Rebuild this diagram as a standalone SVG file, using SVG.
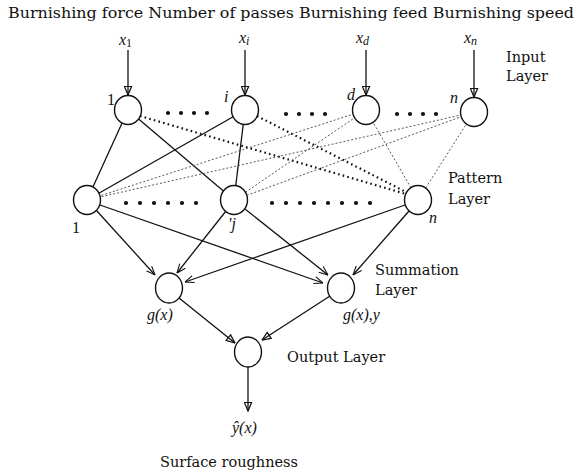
<svg xmlns="http://www.w3.org/2000/svg" width="577" height="475" viewBox="0 0 577 475">
<style>
.t{font-family:"DejaVu Serif","Liberation Serif",serif;font-size:14.5px;fill:#111}
.it{font-family:"Liberation Serif",serif;font-style:italic;font-size:16px;fill:#111}
.up{font-family:"Liberation Serif",serif;font-size:16px;fill:#111}
.node{fill:#fff;stroke:#111;stroke-width:1.4}
.solid{stroke:#111;stroke-width:1.3;fill:none}
.thick{stroke:#111;stroke-width:2.2;stroke-dasharray:1.6 3.2;fill:none}
.thin{stroke:#444;stroke-width:0.9;stroke-dasharray:2 2;fill:none}
.dot{fill:#111}
</style>
<defs>
<marker id="tri" viewBox="0 0 10 10" refX="10" refY="5" markerWidth="10" markerHeight="9" markerUnits="userSpaceOnUse" orient="auto">
<path d="M0.5,1 L10,5 L0.5,9 z" fill="none" stroke="#111" stroke-width="1.4"/>
</marker>
<marker id="open" viewBox="0 0 10 10" refX="10" refY="5" markerWidth="9" markerHeight="9" markerUnits="userSpaceOnUse" orient="auto">
<path d="M0,1 L10,5 L0,9" fill="none" stroke="#111" stroke-width="1.2"/>
</marker>
</defs>

<text class="t" x="8" y="18" font-size="16.5" textLength="566" lengthAdjust="spacingAndGlyphs">Burnishing force Number of passes Burnishing feed Burnishing speed</text>

<g id="connectors">
<line class="solid" x1="128" y1="50" x2="128" y2="95" marker-end="url(#tri)"/>
<line class="solid" x1="245" y1="50" x2="245" y2="95" marker-end="url(#tri)"/>
<line class="solid" x1="366" y1="50" x2="366" y2="95" marker-end="url(#tri)"/>
<line class="solid" x1="474" y1="50" x2="474" y2="97" marker-end="url(#tri)"/>
<line class="solid" x1="128" y1="110" x2="87" y2="200"/>
<line class="solid" x1="128" y1="110" x2="234" y2="200"/>
<line class="solid" x1="245" y1="110" x2="87" y2="200"/>
<line class="solid" x1="245" y1="110" x2="234" y2="200"/>
<line class="thick" x1="140" y1="116" x2="406" y2="194"/>
<line class="thick" x1="257" y1="116" x2="406" y2="192"/>
<line class="thin" x1="366" y1="110" x2="87" y2="200"/>
<line class="thin" x1="366" y1="110" x2="234" y2="200"/>
<line class="thin" x1="366" y1="110" x2="418" y2="200"/>
<line class="thin" x1="474" y1="112" x2="87" y2="200"/>
<line class="thin" x1="474" y1="112" x2="234" y2="200"/>
<line class="thin" x1="474" y1="112" x2="418" y2="200"/>
<line class="solid" x1="96" y1="210" x2="155" y2="275" marker-end="url(#open)"/>
<line class="solid" x1="100" y1="205" x2="323" y2="283" marker-end="url(#open)"/>
<line class="solid" x1="226" y1="211" x2="177" y2="273" marker-end="url(#open)"/>
<line class="solid" x1="245" y1="209" x2="328" y2="275" marker-end="url(#open)"/>
<line class="solid" x1="405" y1="205" x2="185" y2="282" marker-end="url(#open)"/>
<line class="solid" x1="409" y1="211" x2="353" y2="275" marker-end="url(#open)"/>
<line class="solid" x1="179" y1="298" x2="235" y2="343" marker-end="url(#tri)"/>
<line class="solid" x1="330" y1="296" x2="262" y2="340" marker-end="url(#tri)"/>
<line class="solid" x1="248" y1="367" x2="248" y2="411" marker-end="url(#tri)"/>
</g>

<g id="input-1"><ellipse class="node" cx="128" cy="110" rx="13.5" ry="14.5"/><text class="up" x="107" y="105">1</text></g>
<g id="input-i"><ellipse class="node" cx="245" cy="110" rx="13.5" ry="14.5"/><text class="it" x="224" y="102">i</text></g>
<g id="input-d"><ellipse class="node" cx="366" cy="110" rx="13.5" ry="14.5"/><text class="it" x="347" y="100">d</text></g>
<g id="input-n"><ellipse class="node" cx="474" cy="112" rx="13.5" ry="14.5"/><text class="it" x="450" y="103">n</text></g>

<g id="input-labels">
<text class="it" x="119" y="45" font-size="17">x<tspan font-size="12" dy="2" font-style="normal">1</tspan></text>
<text class="it" x="239" y="43" font-size="17">x<tspan font-size="12" dy="2">i</tspan></text>
<text class="it" x="356" y="43" font-size="17">x<tspan font-size="12" dy="2">d</tspan></text>
<text class="it" x="464" y="43" font-size="17">x<tspan font-size="12" dy="2">n</tspan></text>
</g>

<g id="input-dots">
<circle class="dot" cx="168" cy="113" r="2.1"/><circle class="dot" cx="181" cy="113" r="2.1"/><circle class="dot" cx="194" cy="113" r="2.1"/><circle class="dot" cx="207" cy="113" r="2.1"/>
<circle class="dot" cx="286" cy="114" r="2.1"/><circle class="dot" cx="299" cy="114" r="2.1"/><circle class="dot" cx="312" cy="114" r="2.1"/><circle class="dot" cx="325" cy="114" r="2.1"/>
<circle class="dot" cx="397" cy="114" r="2.1"/><circle class="dot" cx="410" cy="114" r="2.1"/><circle class="dot" cx="423" cy="114" r="2.1"/><circle class="dot" cx="436" cy="114" r="2.1"/>
</g>

<g id="pattern-1"><ellipse class="node" cx="87" cy="200" rx="13.5" ry="14.5"/><text class="up" x="72" y="233">1</text></g>
<g id="pattern-j"><ellipse class="node" cx="234" cy="200" rx="13.5" ry="14.5"/><text class="it" x="228" y="229">'j</text></g>
<g id="pattern-n"><ellipse class="node" cx="418" cy="200" rx="13.5" ry="14.5"/><text class="it" x="429" y="223">n</text></g>

<g id="pattern-dots">
<circle class="dot" cx="126" cy="203" r="2.1"/><circle class="dot" cx="140" cy="203" r="2.1"/><circle class="dot" cx="154" cy="203" r="2.1"/><circle class="dot" cx="168" cy="203" r="2.1"/><circle class="dot" cx="182" cy="203" r="2.1"/><circle class="dot" cx="196" cy="203" r="2.1"/>
<circle class="dot" cx="272" cy="203" r="2.1"/><circle class="dot" cx="286" cy="203" r="2.1"/><circle class="dot" cx="300" cy="203" r="2.1"/><circle class="dot" cx="314" cy="203" r="2.1"/><circle class="dot" cx="328" cy="203" r="2.1"/><circle class="dot" cx="342" cy="203" r="2.1"/><circle class="dot" cx="356" cy="203" r="2.1"/><circle class="dot" cx="370" cy="203" r="2.1"/>
</g>

<g id="sum-g"><ellipse class="node" cx="169" cy="288" rx="13.5" ry="15"/><text class="it" x="147" y="320">g(x)</text></g>
<g id="sum-gy"><ellipse class="node" cx="341" cy="288" rx="13.5" ry="15"/><text class="it" x="343" y="320">g(x),y</text></g>
<g id="output"><ellipse class="node" cx="248" cy="352" rx="13.5" ry="15"/></g>

<g id="layer-labels">
<text class="t" x="506" y="62">Input</text>
<text class="t" x="506" y="81">Layer</text>
<text class="t" x="448" y="183">Pattern</text>
<text class="t" x="448" y="204">Layer</text>
<text class="t" x="375" y="275">Summation</text>
<text class="t" x="375" y="295">Layer</text>
<text class="t" x="287" y="362">Output Layer</text>
</g>

<text class="it" x="232" y="433">ŷ(x)</text>
<text class="t" x="160" y="467">Surface roughness</text>
</svg>
